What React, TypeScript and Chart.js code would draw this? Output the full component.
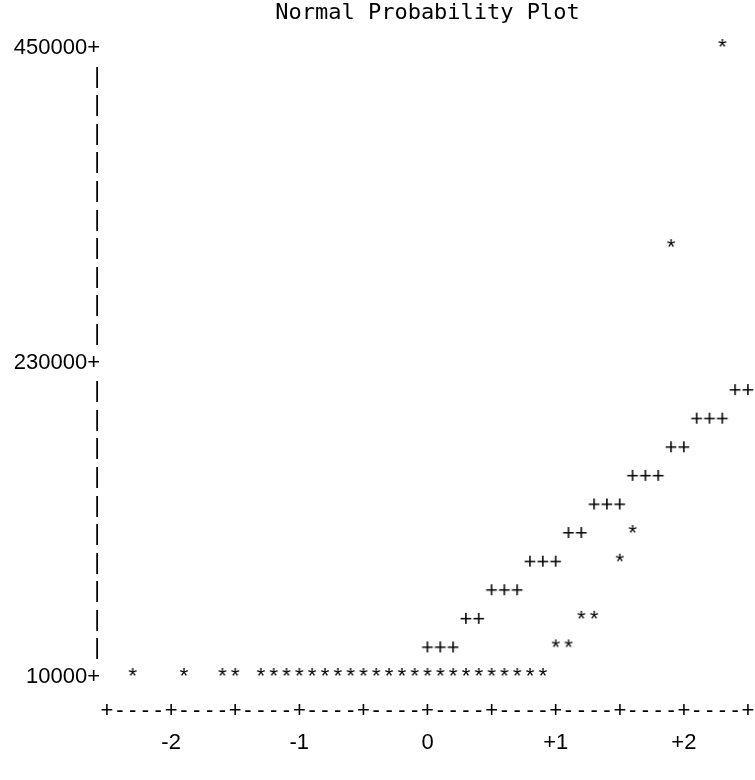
import React, { useEffect, useRef } from "react";
import { Chart, registerables } from "chart.js";

Chart.register(...registerables);

const chartTitle = "Normal Probability Plot";

// Observed data points ("*"): normal quantile vs value
const starZ = [
  -2.3, -1.9, -1.6, -1.5,
  -1.3, -1.2, -1.1, -1.0, -0.9, -0.8, -0.7, -0.6, -0.5, -0.4, -0.3, -0.2, -0.1,
  0.0, 0.1, 0.2, 0.3, 0.4, 0.5, 0.6, 0.7, 0.8, 0.9,
  1.0, 1.1, 1.2, 1.3, 1.5, 1.6, 1.9, 2.3,
];
const starValues = [
  10000, 10000, 10000, 10000,
  10000, 10000, 10000, 10000, 10000, 10000, 10000, 10000, 10000, 10000, 10000, 10000, 10000,
  10000, 10000, 10000, 10000, 10000, 10000, 10000, 10000, 10000, 10000,
  30000, 30000, 50000, 50000, 90000, 110000, 310000, 450000,
];

// Reference line points ("+")
const refZ = [
  0.0, 0.1, 0.2, 0.3, 0.4, 0.5, 0.6, 0.7, 0.8, 0.9, 1.0, 1.1, 1.2,
  1.3, 1.4, 1.5, 1.6, 1.7, 1.8, 1.9, 2.0, 2.1, 2.2, 2.3, 2.4, 2.5,
];
const refValues = [
  30000, 30000, 30000, 50000, 50000, 70000, 70000, 70000, 90000, 90000, 90000, 110000, 110000,
  130000, 130000, 130000, 150000, 150000, 150000, 170000, 170000, 190000, 190000, 190000, 210000, 210000,
];

// Axis ticks
const yTickLabelled = [10000, 230000, 450000];
const yMin = 10000;
const yMax = 450000;
const yStep = 20000;
const xMin = -2.5;
const xMax = 2.5;
const xStep = 0.1;
const xNumberLabels: Record<string, string> = {
  "-2": "-2",
  "-1": "-1",
  "0": "0",
  "1": "+1",
  "2": "+2",
};

const TEXT_FONT = '"Liberation Sans", Arial, Helvetica, sans-serif';

function glyph(ch: string): HTMLCanvasElement {
  const c = document.createElement("canvas");
  c.width = 24;
  c.height = 30;
  const ctx = c.getContext("2d")!;
  ctx.font = `22px ${TEXT_FONT}`;
  ctx.fillStyle = "#000";
  ctx.textAlign = "center";
  ctx.textBaseline = "middle";
  ctx.fillText(ch, 12, 15);
  return c;
}

export default function App() {
  const ref = useRef<HTMLCanvasElement | null>(null);

  useEffect(() => {
    document.body.style.margin = "0";
    const canvas = ref.current!;
    const star = glyph("*");
    const plus = glyph("+");

    const titlePlugin = {
      id: "asciiTitle",
      afterDraw(chart: any) {
        const { ctx, chartArea } = chart;
        ctx.save();
        ctx.font = '22px "DejaVu Sans Mono", monospace';
        ctx.fillStyle = "#000";
        ctx.textAlign = "center";
        ctx.textBaseline = "middle";
        ctx.fillText(chartTitle, (chartArea.left + chartArea.right) / 2, 13);
        ctx.restore();
      },
    };

    const chart = new Chart(canvas, {
      type: "scatter",
      data: {
        datasets: [
          {
            label: "Data",
            data: starZ.map((z, i) => ({ x: z, y: starValues[i] })),
            pointStyle: star as any,
            pointRadius: 6,
            clip: false as any,
          },
          {
            label: "Reference",
            data: refZ.map((z, i) => ({ x: z, y: refValues[i] })),
            pointStyle: plus as any,
            pointRadius: 6,
            clip: false as any,
          },
        ],
      },
      options: {
        responsive: false,
        animation: false,
        devicePixelRatio: 1,
        layout: { padding: { left: 0, top: 48, right: 3, bottom: 0 } },
        plugins: {
          legend: { display: false },
          tooltip: { enabled: false },
          title: { display: false },
        },
        scales: {
          x: {
            type: "linear",
            min: xMin,
            max: xMax,
            grid: { display: false, drawTicks: false },
            border: { display: false },
            afterBuildTicks(scale: any) {
              const n = Math.round((xMax - xMin) / xStep);
              const t = [];
              for (let i = 0; i <= n; i++) t.push({ value: Math.round((xMin + i * xStep) * 10) / 10 });
              scale.ticks = t;
            },
            afterFit(scale: any) {
              scale.height = 103;
              scale.paddingLeft = 0;
              scale.paddingRight = 0;
            },
            ticks: {
              autoSkip: false,
              maxRotation: 0,
              minRotation: 0,
              padding: 18,
              color: "#000",
              font: { family: TEXT_FONT, size: 22, lineHeight: 32 / 22 },
              callback(value: any, index: number) {
                const v = Math.round(Number(value) * 10) / 10;
                const line1 = index % 5 === 0 ? "+" : "-";
                const key = Number.isInteger(v) ? String(v) : "";
                const line2 = key in xNumberLabels ? xNumberLabels[key] : "";
                return [line1, line2];
              },
            },
          },
          y: {
            type: "linear",
            min: yMin,
            max: yMax,
            grid: { display: false, drawTicks: false },
            border: { display: false },
            afterBuildTicks(scale: any) {
              const n = Math.round((yMax - yMin) / yStep);
              const t = [];
              for (let i = 0; i <= n; i++) t.push({ value: yMin + i * yStep });
              scale.ticks = t;
            },
            afterFit(scale: any) {
              scale.width = 107;
              scale.paddingTop = 0;
              scale.paddingBottom = 0;
            },
            ticks: {
              autoSkip: false,
              padding: 7,
              color: "#000",
              font: { family: TEXT_FONT, size: 22 },
              callback(value: any) {
                const v = Number(value);
                return yTickLabelled.includes(v) ? `${v}+` : "|";
              },
            },
          },
        },
      },
      plugins: [titlePlugin],
    });

    return () => chart.destroy();
  }, []);

  return (
    <div style={{ position: "absolute", left: 0, top: 0, width: 755, height: 780 }}>
      <canvas ref={ref} width={755} height={780} style={{ display: "block" }} />
    </div>
  );
}
